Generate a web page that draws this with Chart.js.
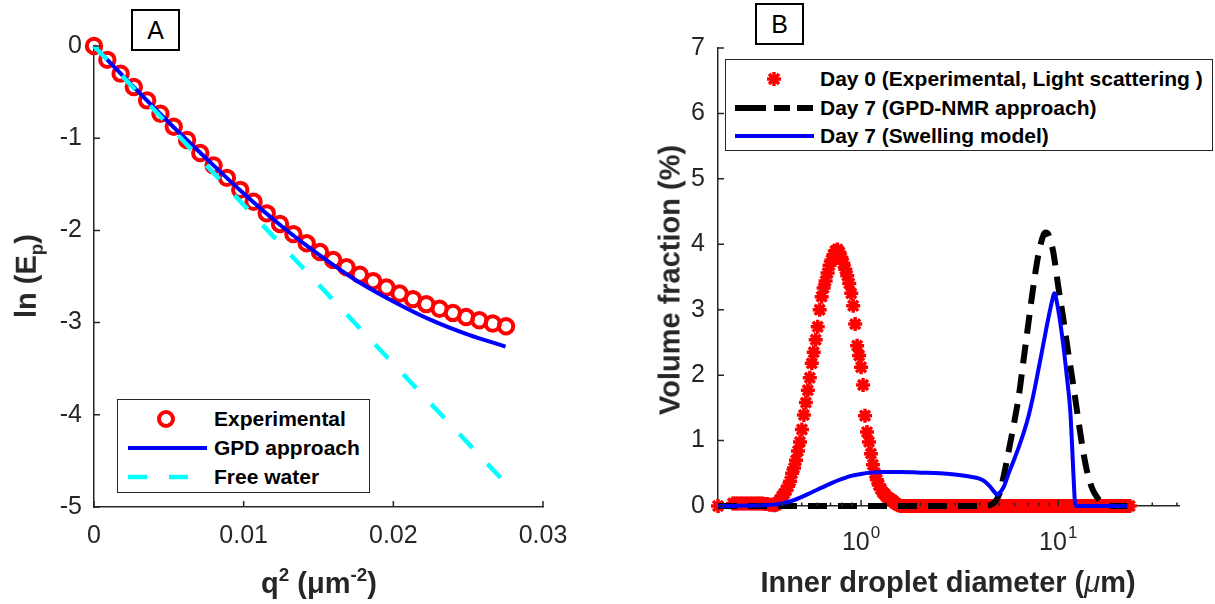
<!DOCTYPE html>
<html>
<head>
<meta charset="utf-8">
<script src="https://cdn.jsdelivr.net/npm/chart.js@4.4.1/dist/chart.umd.min.js"></script>
<style>
  body { margin: 0; background: #fff; font-family: "Liberation Sans", Arial, sans-serif; }
  #figure { position: relative; width: 1215px; height: 604px; overflow: hidden; background: #fff; }
  .panel { position: absolute; top: 0; }
  .tag { position: absolute; box-sizing: border-box; border: 2px solid #000; background: #fff;
         font-size: 25px; color: #000; text-align: center; }
  .axis-title { position: absolute; font-weight: bold; font-size: 29px; color: #262626;
                white-space: nowrap; transform: translate(-50%, -50%); line-height: 1; }
  .axis-title.vertical { transform: translate(-50%, -50%) rotate(-90deg); }
  .axis-title sup { font-size: 0.65em; vertical-align: 0.6em; }
  .axis-title sub { font-size: 0.65em; vertical-align: -0.35em; }
  .legend { position: absolute; box-sizing: border-box; border: 1px solid #262626; background: #fff; }
  .legend .row { position: absolute; left: 0; right: 0; height: 24px; }
  .legend svg { position: absolute; top: 0; }
  .legend span { position: absolute; top: 0; line-height: 24px; font-size: 21px; font-weight: bold;
                 color: #000; white-space: nowrap; }
</style>
</head>
<body>
<div id="figure">
  <div class="panel" style="left:0;width:600px;height:604px">
    <canvas id="chartA" width="600" height="604"></canvas>
  </div>
  <div class="panel" style="left:600px;width:615px;height:604px">
    <canvas id="chartB" width="615" height="604"></canvas>
  </div>

  <div class="tag" style="left:131px;top:9px;width:49px;height:42px;line-height:38px">A</div>
  <div class="tag" style="left:755px;top:3px;width:49px;height:42px;line-height:38px">B</div>

  <div class="axis-title" style="left:319px;top:582px">q<sup>2</sup> (μm<sup>-2</sup>)</div>
  <div class="axis-title vertical" style="left:29px;top:276px">ln (E<sub>p</sub>)</div>
  <div class="axis-title" style="left:948px;top:582px">Inner droplet diameter (<i style="font-weight:normal">μ</i>m)</div>
  <div class="axis-title vertical" style="left:670px;top:280px">Volume fraction (%)</div>

  <!-- legend, panel A -->
  <div class="legend" style="left:117px;top:399px;width:253px;height:94px">
    <div class="row" style="top:7px">
      <svg style="left:10px" width="80" height="24"><circle cx="38" cy="12" r="7" fill="none" stroke="#ff0000" stroke-width="4"/></svg>
      <span style="left:96px">Experimental</span>
    </div>
    <div class="row" style="top:36px">
      <svg style="left:10px" width="80" height="24"><line x1="0" y1="12" x2="79" y2="12" stroke="#0000ff" stroke-width="4"/></svg>
      <span style="left:96px">GPD approach</span>
    </div>
    <div class="row" style="top:65px">
      <svg style="left:10px" width="80" height="24"><line x1="0" y1="12" x2="79" y2="12" stroke="#00ffff" stroke-width="4.5" stroke-dasharray="19 22"/></svg>
      <span style="left:96px">Free water</span>
    </div>
  </div>

  <!-- legend, panel B -->
  <div class="legend" style="left:725px;top:59px;width:488px;height:92px">
    <div class="row" style="top:7px">
      <svg style="left:9px" width="80" height="24">
        <g stroke="#ff0000" stroke-width="3.5">
          <line x1="39" y1="5" x2="39" y2="19"/><line x1="32" y1="12" x2="46" y2="12"/>
          <line x1="34" y1="7" x2="44" y2="17"/><line x1="34" y1="17" x2="44" y2="7"/>
        </g>
      </svg>
      <span style="left:94px">Day 0 (Experimental, Light scattering )</span>
    </div>
    <div class="row" style="top:36px">
      <svg style="left:9px" width="80" height="24"><line x1="0" y1="12" x2="79" y2="12" stroke="#000" stroke-width="6" stroke-dasharray="31 8 16 7 16 99"/></svg>
      <span style="left:94px">Day 7 (GPD-NMR approach)</span>
    </div>
    <div class="row" style="top:64px">
      <svg style="left:9px" width="80" height="24"><line x1="0" y1="12" x2="79" y2="12" stroke="#0000ff" stroke-width="4"/></svg>
      <span style="left:94px">Day 7 (Swelling model)</span>
    </div>
  </div>
</div>

<script>
// ---------- Panel A: signal attenuation vs q^2 ----------
const qSquared = [0, 0.00089, 0.00178, 0.00266, 0.00355, 0.00444, 0.00533, 0.00622,
  0.00710, 0.00799, 0.00888, 0.00977, 0.01066, 0.01154, 0.01243, 0.01332,
  0.01421, 0.01510, 0.01598, 0.01687, 0.01776, 0.01865, 0.01954, 0.02042,
  0.02131, 0.02220, 0.02309, 0.02398, 0.02486, 0.02575, 0.02664, 0.02753];
const lnEpExperimental = [0, -0.15, -0.30, -0.445, -0.59, -0.735, -0.875, -1.02,
  -1.16, -1.295, -1.43, -1.56, -1.69, -1.815, -1.93, -2.04,
  -2.14, -2.235, -2.32, -2.40, -2.48, -2.55, -2.62, -2.685,
  -2.745, -2.80, -2.85, -2.895, -2.94, -2.975, -3.01, -3.04];

const gpdQSquared = [0, 0.0025, 0.005, 0.0075, 0.01, 0.0125, 0.015, 0.0175, 0.02, 0.0225, 0.025, 0.0275];
const lnEpGpd = [0, -0.42, -0.83, -1.22, -1.60, -1.95, -2.26, -2.54, -2.77, -2.97, -3.13, -3.26];

const freeWaterQSquared = [0, 0.0275];
const lnEpFreeWater = [0, -4.74];

const qTickLabels = ['0', '0.01', '0.02', '0.03'];
const lnTickLabels = ['-5', '-4', '-3', '-2', '-1', '0'];

// ---------- Panel B: droplet size distributions ----------
const day0Diameter = [
  0.188,
  0.2239, 0.2304, 0.2371, 0.2441, 0.2512, 0.2585, 0.2661, 0.2738, 0.2818, 0.2901,
  0.2985, 0.3072, 0.3162, 0.3255, 0.3350, 0.3447, 0.3548,
  0.3631, 0.3715, 0.3802, 0.3890, 0.3981, 0.4074, 0.4169, 0.4266, 0.4365, 0.4467,
  0.4571, 0.4677, 0.4786, 0.4898, 0.5012, 0.5129, 0.5248, 0.5370, 0.5495, 0.5623,
  0.5754, 0.5888, 0.6026, 0.6166, 0.6310, 0.6457, 0.6607, 0.6761, 0.6918, 0.7079,
  0.7244, 0.7413, 0.7586, 0.7762, 0.7943, 0.8128, 0.8318, 0.8511, 0.8710, 0.8913,
  0.9120, 0.9333, 0.9550, 0.9772, 1.0000, 1.0233, 1.0471, 1.0715, 1.0965, 1.1220,
  1.1482, 1.1749, 1.2023, 1.2303, 1.2589, 1.2882, 1.3183, 1.3490, 1.3804, 1.4125,
  1.4454, 1.4791, 1.5136, 1.5488, 1.5849,
  1.631, 1.679, 1.728, 1.778, 1.830, 1.884, 1.939, 1.995, 2.054, 2.113,
  2.175, 2.239, 2.304, 2.371, 2.441, 2.512, 2.585, 2.661, 2.738, 2.818,
  2.901, 2.985, 3.072, 3.162, 3.255, 3.350, 3.447, 3.548, 3.652, 3.758,
  3.868, 3.981, 4.097, 4.217, 4.340, 4.467, 4.597, 4.732, 4.870, 5.012,
  5.158, 5.309, 5.464, 5.623, 5.788, 5.957, 6.131, 6.310, 6.494, 6.683,
  6.879, 7.079, 7.286, 7.499, 7.718, 7.943, 8.175, 8.414, 8.660, 8.913,
  9.173, 9.441, 9.716, 10.00, 10.29, 10.59, 10.90, 11.22, 11.55, 11.89,
  12.23, 12.59, 12.96, 13.34, 13.72, 14.13, 14.54, 14.96, 15.40, 15.85,
  16.31, 16.79, 17.28, 17.78, 18.30, 18.84, 19.39, 19.95, 20.54, 21.13,
  21.75, 22.39, 23.04];
const day0Volume = [
  0,
  0.04, 0.04, 0.04, 0.04, 0.04, 0.04, 0.04, 0.04, 0.04, 0.04,
  0.04, 0.04, 0.04, 0.03, 0.03, 0.02, 0.02,
  0.01, 0.02, 0.06, 0.10, 0.15, 0.19, 0.24, 0.30, 0.38, 0.50,
  0.58, 0.70, 0.84, 0.98, 1.17, 1.39, 1.58, 1.77, 1.96, 2.18,
  2.35, 2.54, 2.74, 3.00, 3.20, 3.33, 3.44, 3.56, 3.68, 3.76,
  3.84, 3.90, 3.92, 3.88, 3.80, 3.71, 3.62, 3.52, 3.40, 3.25,
  3.06, 2.78, 2.45, 2.30, 2.12, 1.85, 1.38, 1.13, 0.98, 0.80,
  0.63, 0.50, 0.40, 0.32, 0.26, 0.21, 0.18, 0.14, 0.12, 0.10,
  0.08, 0.05, 0.03, 0.01, 0,
  0, 0, 0, 0, 0, 0, 0, 0, 0, 0,
  0, 0, 0, 0, 0, 0, 0, 0, 0, 0,
  0, 0, 0, 0, 0, 0, 0, 0, 0, 0,
  0, 0, 0, 0, 0, 0, 0, 0, 0, 0,
  0, 0, 0, 0, 0, 0, 0, 0, 0, 0,
  0, 0, 0, 0, 0, 0, 0, 0, 0, 0,
  0, 0, 0, 0, 0, 0, 0, 0, 0, 0,
  0, 0, 0, 0, 0, 0, 0, 0, 0, 0,
  0, 0, 0, 0, 0, 0, 0, 0, 0, 0,
  0, 0, 0];

const gpdDiameter = [0.188, 1.0, 3.981, 4.467, 4.732, 5.012, 5.309, 5.623, 5.957, 6.310,
  6.683, 7.079, 7.499, 7.943, 8.414, 8.660, 8.913, 9.441, 10.0, 10.59,
  11.22, 11.89, 12.59, 13.34, 14.13, 14.96, 15.85, 16.79, 17.78, 18.84, 22.39];
const gpdVolume = [0, 0, 0, 0.01, 0.05, 0.17, 0.48, 0.86, 1.25, 1.68,
  2.25, 2.82, 3.38, 3.85, 4.14, 4.18, 4.15, 3.88, 3.36, 2.88,
  2.36, 1.87, 1.36, 0.86, 0.48, 0.25, 0.12, 0.05, 0.02, 0, 0];

const swellDiameter = [0.188, 0.3162, 0.3981, 0.4467, 0.5012, 0.5623, 0.6310, 0.7079, 0.7943, 0.8913,
  1.0, 1.122, 1.259, 1.585, 1.995, 2.512, 2.985, 3.548, 3.981, 4.217,
  4.467, 4.732, 4.898, 5.012, 5.309, 5.623, 5.957, 6.310, 6.683, 7.079,
  7.499, 7.943, 8.414, 8.913, 9.333, 9.550, 10.0, 10.59, 11.07, 11.51,
  11.75, 11.97, 12.19, 12.59, 22.39];
const swellVolume = [0, 0.01, 0.04, 0.08, 0.14, 0.21, 0.28, 0.35, 0.41, 0.46,
  0.49, 0.51, 0.52, 0.52, 0.51, 0.50, 0.48, 0.45, 0.42, 0.38,
  0.31, 0.22, 0.17, 0.19, 0.30, 0.51, 0.70, 0.90, 1.12, 1.38,
  1.71, 2.09, 2.48, 2.87, 3.15, 3.25, 3.00, 2.48, 1.97, 1.46,
  0.95, 0.43, 0.03, 0, 0];

const volumeTickLabels = ['0', '1', '2', '3', '4', '5', '6', '7'];
const diameterDecades = [1, 10];
const diameterDecadeExponents = ['0', '1'];
const diameterMinorTicks = [0.2, 0.3, 0.4, 0.5, 0.6, 0.7, 0.8, 0.9,
  2, 3, 4, 5, 6, 7, 8, 9, 20, 30, 40];

// ---------- helpers ----------
const FONT = '"Liberation Sans", Arial, Helvetica, sans-serif';
const AXIS_COLOR = '#262626';

function pairs(xs, ys) {
  return xs.map((x, i) => ({ x: x, y: ys[i] }));
}

// fixes the size of an axis box so the plot area lands where the original has it
function fixAxis(prop, size) {
  return function (scale) {
    scale[prop] = size;
    scale.paddingLeft = scale.paddingRight = scale.paddingTop = scale.paddingBottom = 0;
  };
}

// MATLAB draws tick marks pointing into the plot
const inwardTicks = {
  id: 'inwardTicks',
  afterDraw(chart, args, opts) {
    const { ctx, chartArea: a } = chart;
    const xs = chart.scales.x, ys = chart.scales.y;
    const xMajor = opts.xMajor || xs.ticks.map(t => t.value);
    ctx.save();
    ctx.strokeStyle = AXIS_COLOR;
    ctx.lineWidth = 1.5;
    ctx.beginPath();
    xMajor.forEach(v => {
      const p = xs.getPixelForValue(v);
      ctx.moveTo(p, a.bottom); ctx.lineTo(p, a.bottom - 6);
    });
    (opts.xMinor || []).forEach(v => {
      const p = xs.getPixelForValue(v);
      if (p > a.right + 0.5) return;
      ctx.moveTo(p, a.bottom); ctx.lineTo(p, a.bottom - 3.5);
    });
    ys.ticks.forEach(t => {
      const p = ys.getPixelForValue(t.value);
      ctx.moveTo(a.left, p); ctx.lineTo(a.left + 6, p);
    });
    ctx.stroke();
    ctx.restore();
  }
};

// "10^n" labels for the log axis
const decadeLabels = {
  id: 'decadeLabels',
  afterDraw(chart) {
    const { ctx, chartArea: a } = chart;
    const xs = chart.scales.x;
    ctx.save();
    ctx.fillStyle = AXIS_COLOR;
    ctx.textAlign = 'left';
    ctx.textBaseline = 'alphabetic';
    diameterDecades.forEach((v, i) => {
      const p = xs.getPixelForValue(v);
      ctx.font = '25px ' + FONT;
      const wBase = ctx.measureText('10').width;
      ctx.font = '17px ' + FONT;
      const wExp = ctx.measureText(diameterDecadeExponents[i]).width;
      const left = p - (wBase + wExp + 1) / 2;
      ctx.font = '25px ' + FONT;
      ctx.fillText('10', left, a.bottom + 44);
      ctx.font = '17px ' + FONT;
      ctx.fillText(diameterDecadeExponents[i], left + wBase + 1, a.bottom + 32);
    });
    ctx.restore();
  }
};

function axisLook() {
  return {
    grid: { display: true, drawOnChartArea: false, drawTicks: false },
    border: { display: true, color: AXIS_COLOR, width: 1.5 }
  };
}

// ---------- Panel A ----------
const chartA = new Chart(document.getElementById('chartA'), {
  type: 'scatter',
  data: {
    datasets: [
      {
        label: 'Experimental',
        data: pairs(qSquared, lnEpExperimental),
        showLine: false,
        pointStyle: 'circle',
        pointRadius: 7.2,
        pointBorderWidth: 4,
        borderColor: '#ff0000',
        backgroundColor: 'rgba(0,0,0,0)',
        order: 3,
        clip: false
      },
      {
        label: 'GPD approach',
        data: pairs(gpdQSquared, lnEpGpd),
        showLine: true,
        pointRadius: 0,
        borderColor: '#0000ff',
        borderWidth: 4,
        cubicInterpolationMode: 'monotone',
        order: 2,
        clip: false
      },
      {
        label: 'Free water',
        data: pairs(freeWaterQSquared, lnEpFreeWater),
        showLine: true,
        pointRadius: 0,
        borderColor: '#00ffff',
        borderWidth: 4.5,
        borderDash: [19, 22],
        borderCapStyle: 'butt',
        order: 1,
        clip: false
      }
    ]
  },
  options: {
    responsive: false,
    animation: false,
    devicePixelRatio: 1,
    events: [],
    layout: { padding: { left: 0, top: 46, right: 57, bottom: 0 } },
    plugins: { legend: { display: false }, tooltip: { enabled: false }, inwardTicks: {} },
    scales: {
      x: Object.assign(axisLook(), {
        type: 'linear', min: 0, max: 0.03,
        afterFit: fixAxis('height', 97),
        ticks: {
          stepSize: 0.01, padding: 14, color: AXIS_COLOR, maxRotation: 0,
          font: { family: FONT, size: 25 },
          callback: (v, i) => qTickLabels[i]
        }
      }),
      y: Object.assign(axisLook(), {
        type: 'linear', min: -5, max: 0,
        afterFit: fixAxis('width', 94),
        ticks: {
          stepSize: 1, padding: 12, color: AXIS_COLOR,
          font: { family: FONT, size: 25 },
          callback: (v, i) => lnTickLabels[i]
        }
      })
    }
  },
  plugins: [inwardTicks]
});

// ---------- Panel B ----------
const chartB = new Chart(document.getElementById('chartB'), {
  type: 'scatter',
  data: {
    datasets: [
      {
        label: 'Day 0 (Experimental, Light scattering )',
        data: pairs(day0Diameter, day0Volume),
        showLine: false,
        pointStyle: 'star',
        pointRadius: 7,
        pointBorderWidth: 3.5,
        borderColor: '#ff0000',
        backgroundColor: '#ff0000',
        order: 3,
        clip: false
      },
      {
        label: 'Day 7 (GPD-NMR approach)',
        data: pairs(gpdDiameter, gpdVolume),
        showLine: true,
        pointRadius: 0,
        borderColor: '#000000',
        borderWidth: 6,
        borderDash: [19, 11],
        borderCapStyle: 'butt',
        cubicInterpolationMode: 'monotone',
        order: 2,
        clip: false
      },
      {
        label: 'Day 7 (Swelling model)',
        data: pairs(swellDiameter, swellVolume),
        showLine: true,
        pointRadius: 0,
        borderColor: '#0000ff',
        borderWidth: 4,
        cubicInterpolationMode: 'monotone',
        order: 1,
        clip: false
      }
    ]
  },
  options: {
    responsive: false,
    animation: false,
    devicePixelRatio: 1,
    events: [],
    layout: { padding: { left: 0, top: 48, right: 36, bottom: 0 } },
    plugins: {
      legend: { display: false }, tooltip: { enabled: false },
      inwardTicks: { xMajor: diameterDecades, xMinor: diameterMinorTicks }
    },
    scales: {
      x: Object.assign(axisLook(), {
        type: 'logarithmic', min: 0.188, max: 41,
        afterFit: fixAxis('height', 98),
        ticks: { display: false, autoSkip: false }
      }),
      y: Object.assign(axisLook(), {
        type: 'linear', min: 0, max: 7,
        afterFit: fixAxis('width', 118),
        ticks: {
          stepSize: 1, padding: 13, color: AXIS_COLOR,
          font: { family: FONT, size: 25 },
          callback: (v, i) => volumeTickLabels[i]
        }
      })
    }
  },
  plugins: [inwardTicks, decadeLabels]
});
</script>
</body>
</html>
